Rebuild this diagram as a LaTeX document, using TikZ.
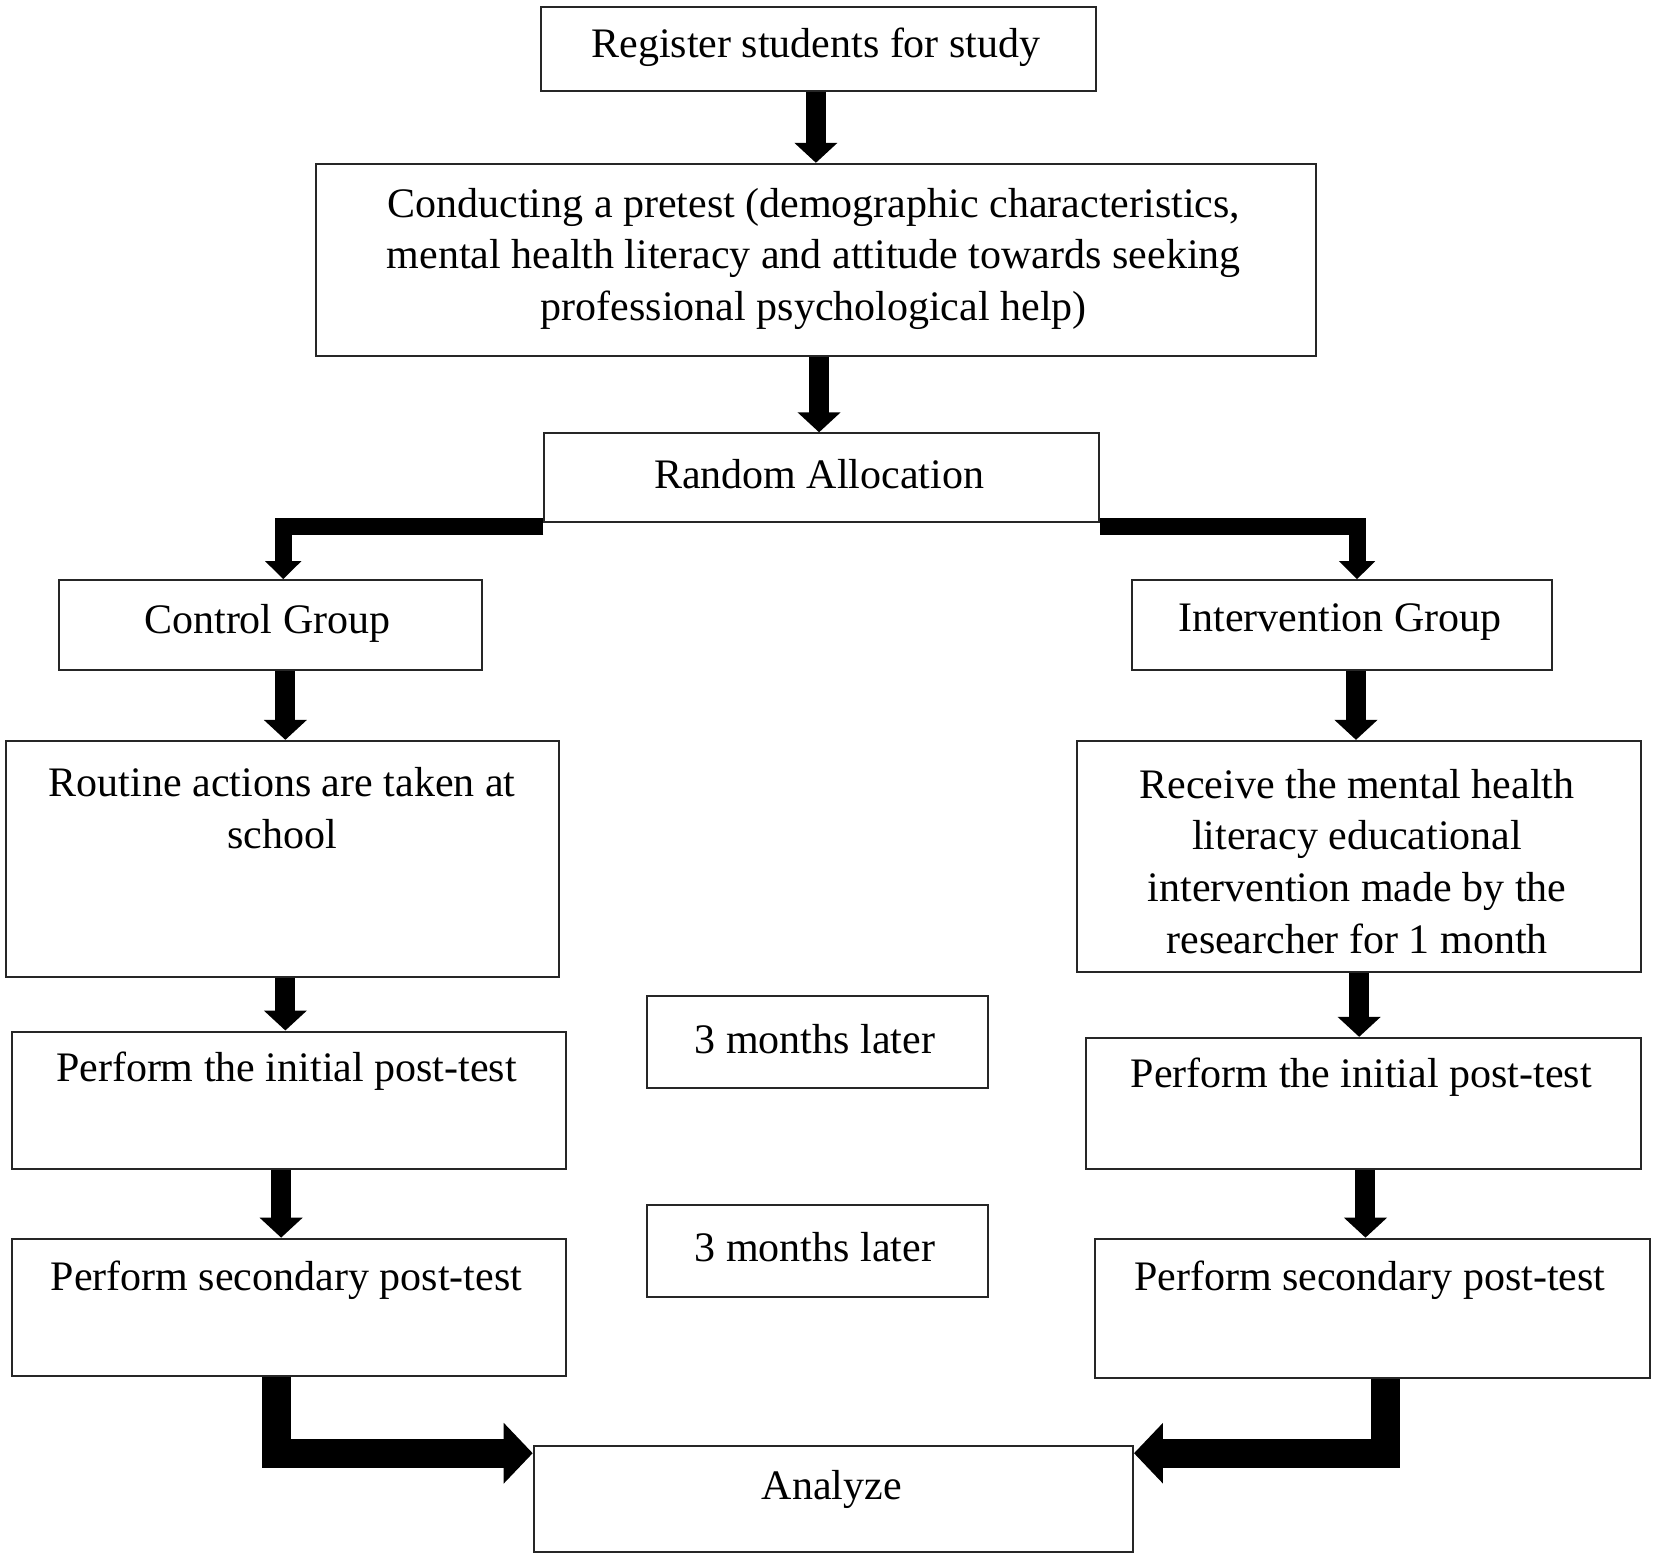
\documentclass[tikz,border=0pt]{standalone}
\usepackage{fontspec}
\setmainfont{Liberation Serif}
\usetikzlibrary{arrows.meta,fit}
\begin{document}
\begin{tikzpicture}[x=0.52845pt,y=-0.52845pt,
  box/.style={draw=black!85, line width=1pt, inner sep=0pt},
  txt/.style={font=\fontsize{21}{25.9}\selectfont, align=center, inner sep=0pt},
  varr/.style={line width=10pt, -{Triangle[width=21pt,length=10pt]}},
  elb/.style={line width=8.5pt, line join=miter, -{Triangle[width=17.5pt,length=9pt]}},
  elbB/.style={line width=14.5pt, line join=miter, -{Triangle[width=29.5pt,length=14.5pt]}}]
\useasboundingbox (0,0) rectangle (1565,1472);
% boxes
\node[box, fit={(512,7) (1037,86)}] (reg) {};
\node[box, fit={(299,155) (1245,337)}] (pre) {};
\node[box, fit={(515,410) (1040,494)}] (ra) {};
\node[box, fit={(56,549) (456,634)}] (cg) {};
\node[box, fit={(1071,549) (1468,634)}] (ig) {};
\node[box, fit={(6,701) (529,924)}] (rt) {};
\node[box, fit={(1019,701) (1553,920)}] (rc) {};
\node[box, fit={(11,976) (536,1106)}] (pla) {};
\node[box, fit={(612,942) (935,1029)}] (ma) {};
\node[box, fit={(1028,982) (1553,1106)}] (pra) {};
\node[box, fit={(11,1172) (536,1302)}] (plb) {};
\node[box, fit={(612,1140) (935,1227)}] (mb) {};
\node[box, fit={(1036,1172) (1561,1304)}] (prb) {};
\node[box, fit={(505,1368) (1072,1468)}] (an) {};
% texts
\node[txt] (treg) at (772,45) {Register students for study};
\node[txt] (tpre) at (770,245) {Conducting a pretest (demographic characteristics,\\ mental health literacy and attitude towards seeking\\ professional psychological help)};
\node[txt] (tra) at (775,449) {Random Allocation};
\node[txt] (tcg) at (253,590) {Control Group};
\node[txt] (tig) at (1268,589) {Intervention Group};
\node[txt] (trt) at (267,765) {Routine actions are taken at\\ school};
\node[txt] (trc) at (1284,815) {Receive the mental health\\ literacy educational\\ intervention made by the\\ researcher for 1 month};
\node[txt] (tpla) at (271,1014) {Perform the initial post-test};
\node[txt] (tma) at (771,983) {3 months later};
\node[txt] (tpra) at (1288,1019) {Perform the initial post-test};
\node[txt] (tplb) at (271,1211) {Perform secondary post-test};
\node[txt] (tmb) at (771,1180) {3 months later};
\node[txt] (tprb) at (1296,1211) {Perform secondary post-test};
\node[txt] (tan) at (787,1409) {Analyze};
% arrows
\draw[varr] (772,0 |- reg.south) -- (772,0 |- pre.north);
\draw[varr] (775,0 |- pre.south) -- (775,0 |- ra.north);
\draw[elb] (ra.south west |- 0,498) -| (268,0 |- cg.north);
\draw[elb] (ra.south east |- 0,498) -| (1284,0 |- ig.north);
\draw[varr] (270,0 |- cg.south) -- (270,0 |- rt.north);
\draw[varr] (1283,0 |- ig.south) -- (1283,0 |- rc.north);
\draw[varr] (270,0 |- rt.south) -- (270,0 |- pla.north);
\draw[varr] (1286,0 |- rc.south) -- (1286,0 |- pra.north);
\draw[varr] (266,0 |- pla.south) -- (266,0 |- plb.north);
\draw[varr] (1292,0 |- pra.south) -- (1292,0 |- prb.north);
\draw[elbB] (262,0 |- plb.south) |- (an.west |- 0,1375);
\draw[elbB] (1311,0 |- prb.south) |- (an.east |- 0,1375);
\end{tikzpicture}
\end{document}
